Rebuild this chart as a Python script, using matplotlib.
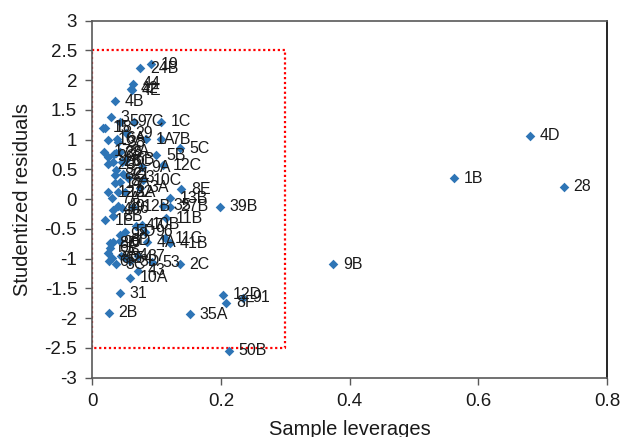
import matplotlib
matplotlib.use("Agg")
import matplotlib.pyplot as plt

plt.rcParams['font.family'] = ['Liberation Sans', 'DejaVu Sans']

# Sample leverages (x), studentized residuals (y), sample labels
leverage = [0.091, 0.074, 0.063, 0.060, 0.061, 0.035, 0.029, 0.019, 0.043, 0.064,
            0.107, 0.052, 0.024, 0.038, 0.083, 0.107, 0.136, 0.040, 0.043, 0.036,
            0.018, 0.024, 0.034, 0.046, 0.099, 0.110, 0.024, 0.032, 0.052, 0.077,
            0.035, 0.047, 0.037, 0.079, 0.035, 0.043, 0.138, 0.024, 0.040, 0.051,
            0.074, 0.030, 0.120, 0.121, 0.110, 0.063, 0.040, 0.198, 0.032, 0.046,
            0.019, 0.032, 0.114, 0.077, 0.082, 0.113, 0.085, 0.121, 0.032, 0.027,
            0.043, 0.043, 0.051, 0.027, 0.024, 0.030, 0.026, 0.036, 0.044, 0.052,
            0.058, 0.071, 0.093, 0.136, 0.058, 0.070, 0.043, 0.025, 0.151, 0.203,
            0.208, 0.234, 0.212, 0.374, 0.562, 0.680, 0.733, 0.016, 0.055, 0.068]
residual = [2.27, 2.20, 1.94, 1.86, 1.83, 1.65, 1.38, 1.20, 1.30, 1.30,
            1.30, 1.11, 1.00, 1.02, 1.01, 1.01, 0.86, 0.96, 0.80, 0.78,
            0.80, 0.71, 0.76, 0.63, 0.74, 0.57, 0.59, 0.63, 0.66, 0.54,
            0.41, 0.42, 0.49, 0.32, 0.27, 0.29, 0.17, 0.12, 0.12, 0.12,
            0.19, 0.02, 0.02, -0.13, -0.11, -0.13, -0.12, -0.13, -0.18, -0.15,
            -0.35, -0.29, -0.32, -0.43, -0.55, -0.66, -0.72, -0.74, -0.72, -0.74,
            -0.70, -0.60, -0.55, -0.82, -0.90, -0.99, -1.04, -1.09, -0.95, -0.99,
            -1.04, -0.96, -1.06, -1.09, -1.32, -1.20, -1.58, -1.91, -1.93, -1.61,
            -1.74, -1.66, -2.55, -1.09, 0.35, 1.07, 0.21, 1.20, 0.36, -0.45]
labels = ["19", "24B", "44", "42", "4E", "4B", "3", "18", "59", "7C",
          "1C", "29", "16", "6A", "1A", "7B", "5C", "38", "2A", "26",
          "17", "9C", "33", "6C", "5B", "12C", "20", "25", "6B", "9A",
          "8C", "21", "32", "10C", "14", "8A", "8E", "12A", "13A", "22",
          "3A", "7A", "13B", "27B", "35", "12B", "49", "39B", "40", "46",
          "1E", "8B", "11B", "10B", "96", "11C", "4A", "41B", "90", "8D",
          "6D", "98", "5D", "6E", "5A", "8G", "6F", "3C", "34", "54",
          "3D", "37", "53", "2C", "10A", "43", "31", "2B", "35A", "12D",
          "8F", "91", "50B", "9B", "1B", "4D", "28", "15", "23", "47"]

# Reference box (leverage limit and residual limits)
box_x = [0.0, 0.3, 0.3, 0.0, 0.0]
box_y = [2.5, 2.5, -2.5, -2.5, 2.5]

fig = plt.figure(figsize=(6.22, 4.37), dpi=100)
ax = fig.add_axes([0.1487, 0.1357, 0.976 - 0.1487, 0.9526 - 0.1357])

ax.plot(box_x, box_y, color="#FF0000", linestyle=(0, (1, 1.2)), linewidth=1.6, zorder=1)
ax.scatter(leverage, residual, marker="D", s=24, color="#2E75B6", zorder=3, linewidths=0)
for x, y, t in zip(leverage, residual, labels):
    ax.annotate(t, (x, y), xytext=(7, 0), textcoords="offset points",
                ha="left", va="center", fontsize=11.5, color="#1a1a1a", zorder=4)

ax.set_xlim(0, 0.8)
ax.set_ylim(-3, 3)
ax.set_xticks([0, 0.2, 0.4, 0.6, 0.8])
ax.set_xticklabels(["0", "0.2", "0.4", "0.6", "0.8"])
ax.set_yticks([3, 2.5, 2, 1.5, 1, 0.5, 0, -0.5, -1, -1.5, -2, -2.5, -3])
ax.set_yticklabels(["3", "2.5", "2", "1.5", "1", "0.5", "0", "-0.5", "-1", "-1.5", "-2", "-2.5", "-3"])
ax.tick_params(axis="both", direction="out", length=5, width=1, color="#595959",
               labelsize=13.5, labelcolor="#1a1a1a", pad=6)

for s in ["left", "bottom", "top"]:
    ax.spines[s].set_color("#595959")
    ax.spines[s].set_linewidth(1.2)
ax.spines["right"].set_color("#000000")
ax.spines["right"].set_linewidth(1.2)

ax.set_xlabel("Sample leverages", fontsize=14.5, color="#1a1a1a", labelpad=7)
ax.set_ylabel("Studentized residuals", fontsize=14.5, color="#1a1a1a", labelpad=9)

fig.savefig("out.png", dpi=100)
